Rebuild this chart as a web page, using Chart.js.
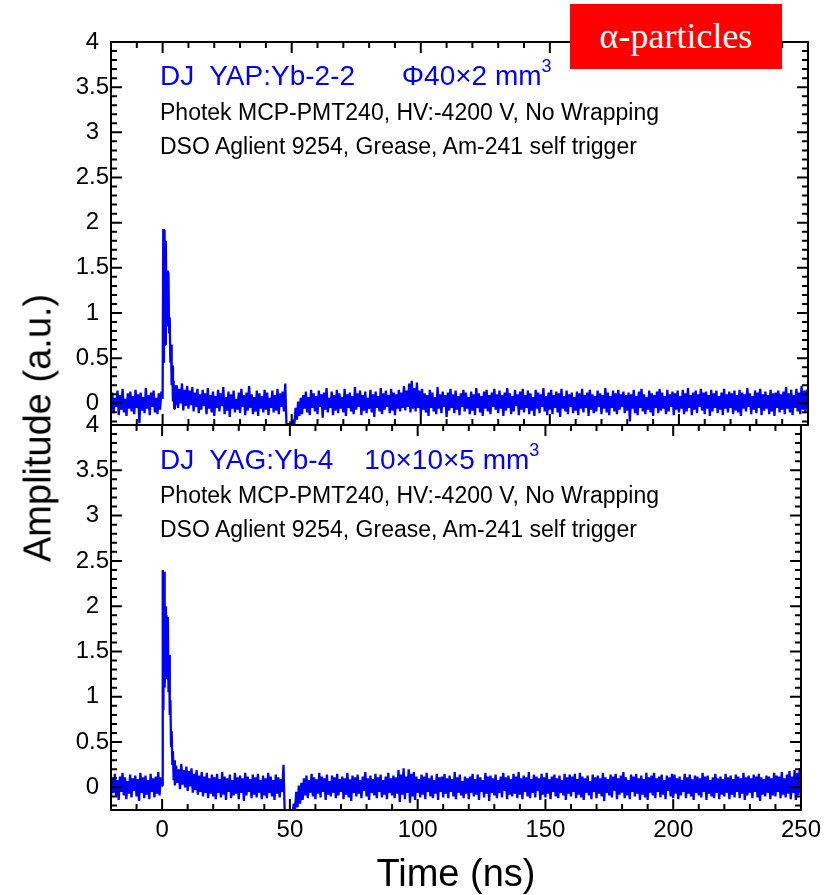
<!DOCTYPE html>
<html lang="en">
<head>
<meta charset="UTF-8">
<title>DJ YAP:Yb / YAG:Yb - alpha-particle waveforms</title>
<script src="https://cdn.jsdelivr.net/npm/chart.js@4.4.1/dist/chart.umd.min.js"></script>
<style>
  body { margin: 0; background: #fff; font-family: "Liberation Sans", Arial, sans-serif; }
  .page { position: relative; width: 827px; height: 895px; overflow: hidden; }
  .layer { position: absolute; left: 0; top: 0; width: 827px; height: 895px; }
  .note { position: absolute; left: 160px; white-space: pre; line-height: 1; color: #000; font-size: 23px; }
  .note.blue { color: #0000ff; font-size: 28px; }
  .note sup { font-size: 18px; position: relative; top: -5px; vertical-align: top; }
  .tag {
    position: absolute; left: 570px; top: 4px; width: 212px; height: 65px;
    background: #ff0000; color: #fff; text-align: center; line-height: 65px;
    font-family: "Liberation Serif", "Times New Roman", serif; font-size: 36px;
  }
  .ytitle {
    position: absolute; left: 38px; top: 428px; white-space: nowrap;
    font-size: 38px; transform: translate(-50%, -50%) rotate(-90deg);
  }
</style>
</head>
<body>
<div class="page">
  <div class="layer"><canvas id="topChart" width="827" height="895"></canvas></div>
  <div class="layer"><canvas id="bottomChart" width="827" height="895"></canvas></div>

  <div class="note blue" style="top:62px">DJ  YAP:Yb-2-2      Φ40×2 mm<sup>3</sup></div>
  <div class="note" style="top:101px">Photek MCP-PMT240, HV:-4200 V, No Wrapping</div>
  <div class="note" style="top:135px">DSO Aglient 9254, Grease, Am-241 self trigger</div>

  <div class="note blue" style="top:446px">DJ  YAG:Yb-4    10×10×5 mm<sup>3</sup></div>
  <div class="note" style="top:484px">Photek MCP-PMT240, HV:-4200 V, No Wrapping</div>
  <div class="note" style="top:518px">DSO Aglient 9254, Grease, Am-241 self trigger</div>

  <div class="tag">α-particles</div>
  <div class="ytitle">Amplitude (a.u.)</div>
</div>

<script>
// sampling of the traces (ns)
const timeStart = -20;
const timeStep = 0.5;

// YAP:Yb-2-2 trace, one value per 0.5 ns from -20 to 250 (one row = 10 ns)
const yapAmp = [
  -0.08, 0.12, -0.11, 0.06, -0.04, 0.14, -0.13, 0.09, -0.07, 0.16, -0.10, 0.05, -0.14, 0.11, -0.06, 0.13, -0.09, 0.08, -0.12, 0.15,
  -0.05, 0.10, -0.22, 0.12, -0.08, 0.07, -0.11, 0.17, -0.06, 0.09, -0.13, 0.12, -0.04, 0.14, -0.10, 0.06, -0.12, 0.11, -0.07, 0.13,
  0.05, 0.45, 0.65, 0.90, 0.85, 0.78, 0.45, 0.20, 0.02, -0.06, -0.02, 0.20, -0.05, 0.16, 0.00, 0.22, -0.08, 0.15, -0.03, 0.19,
  -0.06, 0.14, -0.02, 0.18, -0.09, 0.12, -0.04, 0.16, -0.11, 0.10, -0.07, 0.15, -0.03, 0.11, -0.12, 0.17, -0.06, 0.09, -0.10, 0.13,
  -0.14, 0.08, -0.05, 0.15, -0.09, 0.11, -0.03, 0.18, -0.12, 0.07, -0.08, 0.13, -0.15, 0.10, -0.06, 0.14, -0.10, 0.05, -0.07, 0.12,
  -0.11, 0.16, -0.04, 0.09, -0.13, 0.12, -0.08, 0.19, -0.05, 0.10, -0.12, 0.07, -0.09, 0.14, -0.14, 0.11, -0.06, 0.08, -0.10, 0.15,
  -0.07, 0.12, -0.13, 0.06, -0.05, 0.14, -0.10, 0.09, -0.08, 0.16, -0.12, 0.11, -0.04, 0.13, -0.09, 0.22, -0.26, -0.22, -0.28, -0.20,
  -0.27, -0.18, -0.24, -0.05, -0.18, 0.02, -0.14, 0.06, -0.12, 0.09, -0.06, 0.13, -0.10, 0.07, -0.13, 0.15, -0.05, 0.11, -0.09, 0.08,
  -0.12, 0.14, -0.04, 0.10, -0.16, 0.12, -0.07, 0.17, -0.10, 0.06, -0.05, 0.13, -0.13, 0.09, -0.08, 0.15, -0.11, 0.11, -0.06, 0.07,
  -0.10, 0.16, -0.14, 0.10, -0.05, 0.12, -0.09, 0.08, -0.12, 0.18, -0.07, 0.11, -0.04, 0.14, -0.13, 0.09, -0.08, 0.13, -0.11, 0.06,
  -0.06, 0.15, -0.10, 0.10, -0.15, 0.13, -0.05, 0.08, -0.09, 0.17, -0.12, 0.11, -0.07, 0.14, -0.04, 0.09, -0.11, 0.16, -0.08, 0.12,
  -0.13, 0.10, -0.06, 0.15, -0.09, 0.12, -0.05, 0.19, -0.08, 0.14, -0.04, 0.22, -0.10, 0.25, -0.06, 0.17, -0.09, 0.23, -0.05, 0.14,
  -0.12, 0.16, -0.07, 0.11, -0.10, 0.09, -0.14, 0.15, -0.05, 0.12, -0.09, 0.07, -0.12, 0.18, -0.06, 0.10, -0.11, 0.13, -0.04, 0.09,
  -0.15, 0.12, -0.08, 0.16, -0.05, 0.10, -0.11, 0.14, -0.07, 0.08, -0.13, 0.11, -0.04, 0.15, -0.09, 0.12, -0.06, 0.07, -0.12, 0.13,
  -0.08, 0.10, -0.13, 0.17, -0.05, 0.11, -0.10, 0.08, -0.14, 0.13, -0.06, 0.15, -0.09, 0.09, -0.12, 0.12, -0.04, 0.16, -0.07, 0.10,
  -0.11, 0.14, -0.06, 0.09, -0.14, 0.12, -0.08, 0.17, -0.05, 0.11, -0.12, 0.08, -0.09, 0.15, -0.03, 0.10, -0.13, 0.13, -0.07, 0.16,
  -0.10, 0.09, -0.05, 0.14, -0.12, 0.11, -0.08, 0.07, -0.14, 0.15, -0.06, 0.12, -0.11, 0.10, -0.04, 0.17, -0.09, 0.08, -0.13, 0.12,
  -0.07, 0.15, -0.12, 0.09, -0.05, 0.13, -0.10, 0.11, -0.15, 0.16, -0.06, 0.08, -0.09, 0.14, -0.12, 0.10, -0.04, 0.12, -0.11, 0.07,
  -0.08, 0.13, -0.13, 0.11, -0.06, 0.16, -0.10, 0.09, -0.05, 0.12, -0.14, 0.15, -0.07, 0.10, -0.11, 0.08, -0.09, 0.14, -0.04, 0.11,
  -0.12, 0.09, -0.06, 0.17, -0.10, 0.12, -0.13, 0.08, -0.05, 0.14, -0.09, 0.11, -0.12, 0.15, -0.07, 0.10, -0.04, 0.13, -0.11, 0.09,
  -0.08, 0.12, -0.20, 0.10, -0.06, 0.15, -0.11, 0.08, -0.13, 0.13, -0.05, 0.16, -0.09, 0.10, -0.12, 0.07, -0.07, 0.14, -0.10, 0.11,
  -0.14, 0.09, -0.05, 0.13, -0.11, 0.16, -0.08, 0.12, -0.06, 0.08, -0.12, 0.15, -0.09, 0.10, -0.04, 0.13, -0.13, 0.11, -0.07, 0.14,
  -0.10, 0.08, -0.06, 0.15, -0.12, 0.11, -0.09, 0.17, -0.05, 0.09, -0.13, 0.12, -0.07, 0.14, -0.11, 0.10, -0.04, 0.16, -0.08, 0.12,
  -0.12, 0.13, -0.06, 0.09, -0.14, 0.15, -0.09, 0.11, -0.05, 0.14, -0.11, 0.08, -0.07, 0.12, -0.13, 0.16, -0.06, 0.10, -0.10, 0.13,
  -0.05, 0.11, -0.12, 0.14, -0.08, 0.09, -0.10, 0.15, -0.14, 0.12, -0.06, 0.10, -0.09, 0.17, -0.04, 0.11, -0.12, 0.08, -0.07, 0.14,
  -0.11, 0.12, -0.05, 0.16, -0.13, 0.10, -0.08, 0.13, -0.06, 0.09, -0.12, 0.15, -0.09, 0.11, -0.14, 0.12, -0.05, 0.14, -0.10, 0.10,
  -0.07, 0.13, -0.12, 0.18, -0.06, 0.11, -0.10, 0.15, -0.13, 0.09, -0.05, 0.16, -0.09, 0.12, -0.12, 0.19, -0.07, 0.14, -0.11, 0.15,
  -0.06
];

// YAG:Yb-4 trace, one value per 0.5 ns from -20 to 250 (one row = 10 ns)
const yagAmp = [
  -0.12, 0.10, -0.06, 0.15, -0.10, 0.08, -0.14, 0.12, -0.05, 0.16, -0.09, 0.11, -0.13, 0.07, -0.07, 0.14, -0.11, 0.10, -0.04, 0.13,
  -0.10, 0.09, -0.15, 0.16, -0.06, 0.11, -0.12, 0.13, -0.08, 0.08, -0.13, 0.15, -0.05, 0.10, -0.11, 0.12, -0.07, 0.17, -0.09, 0.11,
  0.02, 0.85, 1.10, 1.20, 1.20, 1.05, 0.80, 0.45, 0.25, 0.08, 0.02, 0.24, 0.05, 0.20, -0.02, 0.26, 0.03, 0.19, 0.00, 0.23,
  -0.04, 0.18, 0.01, 0.21, -0.06, 0.15, -0.03, 0.19, -0.08, 0.13, -0.05, 0.17, -0.10, 0.12, -0.06, 0.16, -0.12, 0.10, -0.07, 0.14,
  -0.10, 0.11, -0.13, 0.15, -0.06, 0.09, -0.11, 0.17, -0.08, 0.12, -0.14, 0.10, -0.05, 0.14, -0.12, 0.08, -0.09, 0.16, -0.07, 0.11,
  -0.13, 0.13, -0.06, 0.10, -0.15, 0.16, -0.09, 0.12, -0.05, 0.09, -0.12, 0.14, -0.08, 0.11, -0.11, 0.15, -0.06, 0.08, -0.13, 0.13,
  -0.09, 0.10, -0.12, 0.16, -0.06, 0.12, -0.10, 0.08, -0.14, 0.14, -0.07, 0.11, -0.11, 0.09, -0.05, 0.25, -0.30, -0.27, -0.31, -0.28,
  -0.30, -0.26, -0.30, -0.18, -0.25, -0.05, -0.22, 0.02, -0.18, 0.05, -0.14, 0.10, -0.09, 0.13, -0.12, 0.08, -0.06, 0.15, -0.10, 0.11,
  -0.13, 0.09, -0.07, 0.16, -0.11, 0.12, -0.05, 0.10, -0.14, 0.14, -0.08, 0.07, -0.10, 0.13, -0.06, 0.11, -0.12, 0.15, -0.09, 0.09,
  -0.05, 0.12, -0.13, 0.10, -0.08, 0.16, -0.11, 0.09, -0.15, 0.13, -0.06, 0.11, -0.10, 0.14, -0.07, 0.08, -0.12, 0.12, -0.04, 0.17,
  -0.10, 0.10, -0.14, 0.13, -0.06, 0.09, -0.09, 0.15, -0.12, 0.11, -0.05, 0.14, -0.11, 0.08, -0.08, 0.12, -0.13, 0.16, -0.06, 0.10,
  -0.09, 0.13, -0.12, 0.11, -0.07, 0.19, -0.16, 0.14, -0.08, 0.21, -0.13, 0.12, -0.06, 0.20, -0.17, 0.15, -0.10, 0.17, -0.14, 0.12,
  -0.06, 0.09, -0.11, 0.14, -0.08, 0.12, -0.13, 0.16, -0.05, 0.10, -0.10, 0.13, -0.12, 0.08, -0.07, 0.15, -0.14, 0.11, -0.05, 0.12,
  -0.11, 0.15, -0.07, 0.10, -0.12, 0.13, -0.05, 0.09, -0.10, 0.17, -0.13, 0.11, -0.06, 0.14, -0.09, 0.07, -0.12, 0.12, -0.07, 0.10,
  -0.13, 0.12, -0.06, 0.15, -0.10, 0.09, -0.08, 0.14, -0.14, 0.11, -0.05, 0.08, -0.11, 0.16, -0.07, 0.12, -0.15, 0.13, -0.06, 0.10,
  -0.09, 0.14, -0.12, 0.08, -0.06, 0.12, -0.11, 0.16, -0.04, 0.11, -0.13, 0.13, -0.08, 0.09, -0.10, 0.15, -0.07, 0.12, -0.12, 0.17,
  -0.08, 0.10, -0.13, 0.13, -0.05, 0.11, -0.10, 0.17, -0.12, 0.09, -0.06, 0.14, -0.11, 0.12, -0.04, 0.10, -0.14, 0.15, -0.08, 0.11,
  -0.11, 0.16, -0.07, 0.09, -0.13, 0.12, -0.05, 0.14, -0.10, 0.10, -0.12, 0.13, -0.06, 0.08, -0.09, 0.15, -0.14, 0.11, -0.07, 0.14,
  -0.10, 0.12, -0.05, 0.15, -0.12, 0.09, -0.08, 0.16, -0.11, 0.12, -0.14, 0.10, -0.06, 0.13, -0.09, 0.07, -0.13, 0.14, -0.05, 0.11,
  -0.12, 0.13, -0.07, 0.10, -0.10, 0.16, -0.15, 0.11, -0.06, 0.09, -0.09, 0.14, -0.11, 0.12, -0.04, 0.15, -0.13, 0.10, -0.08, 0.13,
  -0.06, 0.17, -0.12, 0.11, -0.09, 0.08, -0.13, 0.14, -0.05, 0.12, -0.10, 0.15, -0.07, 0.10, -0.14, 0.13, -0.08, 0.09, -0.11, 0.16,
  -0.14, 0.11, -0.06, 0.13, -0.09, 0.16, -0.12, 0.10, -0.05, 0.12, -0.11, 0.14, -0.08, 0.08, -0.13, 0.13, -0.04, 0.11, -0.10, 0.15,
  -0.12, 0.14, -0.07, 0.10, -0.13, 0.12, -0.09, 0.08, -0.05, 0.15, -0.12, 0.11, -0.07, 0.14, -0.10, 0.09, -0.14, 0.13, -0.06, 0.12,
  -0.09, 0.10, -0.11, 0.16, -0.05, 0.12, -0.14, 0.13, -0.07, 0.08, -0.10, 0.11, -0.12, 0.15, -0.06, 0.10, -0.13, 0.12, -0.08, 0.09,
  -0.10, 0.15, -0.06, 0.11, -0.13, 0.13, -0.08, 0.09, -0.11, 0.14, -0.05, 0.12, -0.12, 0.10, -0.07, 0.16, -0.14, 0.11, -0.09, 0.13,
  -0.06, 0.10, -0.12, 0.14, -0.05, 0.12, -0.11, 0.15, -0.15, 0.11, -0.08, 0.09, -0.10, 0.13, -0.06, 0.12, -0.13, 0.10, -0.09, 0.16,
  -0.10, 0.13, -0.05, 0.12, -0.12, 0.17, -0.08, 0.10, -0.11, 0.14, -0.07, 0.18, -0.13, 0.12, -0.06, 0.19, -0.14, 0.16, -0.09, 0.21,
  -0.06
];

// extra samples inside the scintillation pulse (ns)
const pulseTimes = [0.25, 0.75, 1.25, 1.75, 2.25, 2.75, 3.25, 3.75, 4.25, 4.75];
const yapPulseAmp = [1.93, 1.92, 1.80, 1.47, 1.45, 0.95, 0.65, 0.42, 0.25, 0.20];
const yagPulseAmp = [2.40, 2.38, 2.00, 1.90, 1.88, 1.46, 0.96, 0.62, 0.40, 0.30];

const xTickValues = [0, 50, 100, 150, 200, 250];
const yTickValues = [0, 0.5, 1, 1.5, 2, 2.5, 3, 3.5, 4];

const X_MIN = -20, X_MAX = 250;
const FONT = '"Liberation Sans", Arial, sans-serif';

function buildTrace(gridAmp, detailTimes, detailAmp) {
  const pts = gridAmp.map((v, i) => ({ x: timeStart + i * timeStep, y: v }));
  detailTimes.forEach((t, i) => pts.push({ x: t, y: detailAmp[i] }));
  pts.sort((a, b) => a.x - b.x);
  return pts;
}

// box around the plot area with inward ticks on all four sides
const frameTicks = {
  id: 'frameTicks',
  afterDatasetsDraw(chart) {
    const { ctx, chartArea: a, scales: { x, y } } = chart;
    ctx.save();
    ctx.strokeStyle = '#000';
    ctx.lineWidth = 2;
    ctx.beginPath();
    for (let t = X_MIN; t <= X_MAX; t += 10) {
      const px = x.getPixelForValue(t);
      const len = t % 50 === 0 ? 11 : 6;
      ctx.moveTo(px, a.bottom); ctx.lineTo(px, a.bottom - len);
      ctx.moveTo(px, a.top); ctx.lineTo(px, a.top + len);
    }
    for (let k = Math.ceil(y.min * 10); k <= Math.round(y.max * 10); k++) {
      const py = y.getPixelForValue(k / 10);
      const len = k % 5 === 0 ? 11 : 6;
      ctx.moveTo(a.left, py); ctx.lineTo(a.left + len, py);
      ctx.moveTo(a.right, py); ctx.lineTo(a.right - len, py);
    }
    ctx.stroke();
    ctx.strokeRect(a.left, a.top, a.right - a.left, a.bottom - a.top);
    ctx.restore();
  }
};

function makeChart(id, trace, yMin, padding, showX) {
  new Chart(document.getElementById(id), {
    type: 'line',
    data: {
      datasets: [{
        data: trace,
        borderColor: '#0000ff',
        borderWidth: 2.3,
        borderJoinStyle: 'bevel',
        pointRadius: 0,
        tension: 0
      }]
    },
    options: {
      responsive: false,
      animation: false,
      events: [],
      layout: { padding: padding },
      plugins: { legend: { display: false }, tooltip: { enabled: false } },
      scales: {
        x: {
          type: 'linear',
          min: X_MIN,
          max: X_MAX,
          display: showX,
          grid: { display: false, drawTicks: false },
          border: { display: false },
          afterBuildTicks: s => { s.ticks = xTickValues.map(v => ({ value: v })); },
          afterFit: s => { s.height = showX ? 85 : 0; },
          ticks: {
            color: '#000',
            padding: 6,
            maxRotation: 0,
            callback: v => String(v),
            font: { family: FONT, size: 24 }
          },
          title: {
            display: true,
            text: 'Time (ns)',
            color: '#000',
            padding: { top: 0, bottom: 0 },
            font: { family: FONT, size: 38, lineHeight: 1.05 }
          }
        },
        y: {
          type: 'linear',
          min: yMin,
          max: 4,
          grid: { display: false, drawTicks: false },
          border: { display: false },
          afterBuildTicks: s => { s.ticks = yTickValues.map(v => ({ value: v })); },
          afterFit: s => { s.width = 111; },
          ticks: {
            color: '#000',
            padding: 2,
            crossAlign: 'center',
            callback: v => String(v),
            font: { family: FONT, size: 24 }
          }
        }
      }
    },
    plugins: [frameTicks]
  });
}

makeChart('topChart', buildTrace(yapAmp, pulseTimes, yapPulseAmp), -0.24,
          { top: 42, right: 19, bottom: 470, left: 0 }, false);
makeChart('bottomChart', buildTrace(yagAmp, pulseTimes, yagPulseAmp), -0.25,
          { top: 425, right: 19, bottom: 0, left: 0 }, true);
</script>
</body>
</html>
